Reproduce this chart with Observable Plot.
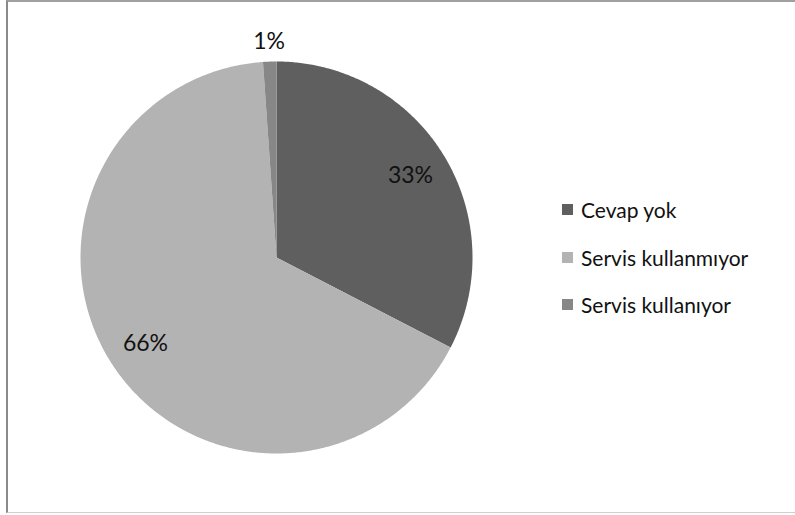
<!DOCTYPE html>
<html>
<head>
<meta charset="utf-8">
<script src="https://cdn.jsdelivr.net/npm/d3@7"></script>
<script src="https://cdn.jsdelivr.net/npm/@observablehq/plot@0.6"></script>
<style>
  html, body { margin: 0; padding: 0; background: #fff; }
  #wrap { position: relative; width: 795px; height: 515px; overflow: hidden; font-family: Lato, "Open Sans", sans-serif; }
  #frame { position: absolute; left: 6px; top: 0; width: 800px; height: 510px;
           border-left: 2px solid #8a8a8a; border-top: 2px solid #a0a0a0; border-bottom: 1px solid #cfcfcf; pointer-events: none; }
  #legend { position: absolute; left: 562px; top: 186px; font-size: 21px; color: #111; }
  #legend .row { display: flex; align-items: center; height: 47.5px; }
  #legend .sw { width: 11px; height: 11px; margin-right: 8px; }
</style>
</head>
<body>
<div id="wrap"><div id="frame"></div><div id="legend"></div></div>
<script>
const categories = ["Cevap yok", "Servis kullanmıyor", "Servis kullanıyor"];
const values = [32.6, 66.3, 1.1];
const colors = ["#5f5f5f", "#b3b3b3", "#878787"];
const labels = ["33%", "66%", "1%"];

const arcs = d3.pie().sort(null).value(d => d.value)(
  categories.map((c, i) => ({category: c, value: values[i], label: labels[i]}))
);

// polygon points for each slice (unit circle, angle 0 at top, clockwise)
const pts = [];
arcs.forEach(a => {
  const c = a.data.category;
  pts.push({category: c, x: 0, y: 0});
  const n = Math.max(2, Math.ceil((a.endAngle - a.startAngle) / (Math.PI / 360)));
  for (let k = 0; k <= n; k++) {
    const t = a.startAngle + (a.endAngle - a.startAngle) * k / n;
    pts.push({category: c, x: Math.sin(t), y: Math.cos(t)});
  }
  pts.push({category: c, x: 0, y: 0});
});

const labelPts = arcs.map(a => {
  const m = (a.startAngle + a.endAngle) / 2;
  const r = a.data.value < 5 ? 1.1 : 0.8;
  return {label: a.data.label, x: r * Math.sin(m), y: r * Math.cos(m)};
});

const chart = Plot.plot({
  width: 795,
  height: 515,
  margin: 0,
  style: {background: "transparent", overflow: "visible"},
  x: {domain: [-1, 1], range: [80, 472], axis: null},
  y: {domain: [-1, 1], range: [453, 61], axis: null},
  color: {domain: categories, range: colors},
  marks: [
    Plot.line(pts, {x: "x", y: "y", z: "category", fill: "category", stroke: "none", curve: "linear"}),
    Plot.text(labelPts, {x: "x", y: "y", text: "label", fontSize: 23, fill: "#111",
      fontFamily: "Lato, 'Open Sans', sans-serif", textAnchor: "middle"})
  ]
});
chart.style.position = "absolute";
chart.style.left = "0";
chart.style.top = "0";
document.getElementById("wrap").insertBefore(chart, document.getElementById("frame"));

const legend = document.getElementById("legend");
categories.forEach((c, i) => {
  const row = document.createElement("div");
  row.className = "row";
  const sw = document.createElement("div");
  sw.className = "sw";
  sw.style.background = colors[i];
  const tx = document.createElement("span");
  tx.textContent = c;
  row.appendChild(sw);
  row.appendChild(tx);
  legend.appendChild(row);
});
</script>
</body>
</html>
